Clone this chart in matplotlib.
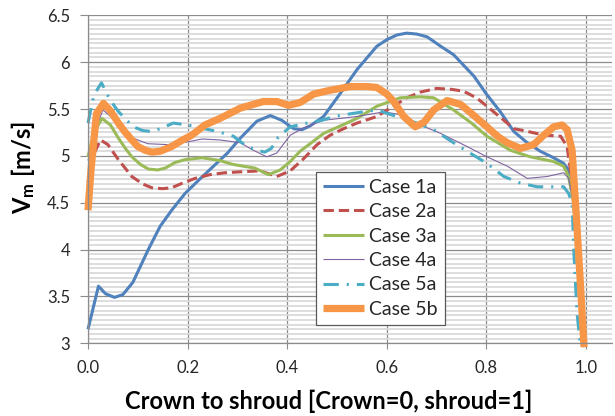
import numpy as np
import matplotlib
matplotlib.use("Agg")
import matplotlib.pyplot as plt
from matplotlib.ticker import FuncFormatter

plt.rcParams['font.family'] = ['Lato', 'DejaVu Sans']
plt.rcParams['mathtext.fontset'] = 'custom'
plt.rcParams['mathtext.rm'] = 'Lato'
plt.rcParams['mathtext.bf'] = 'Lato:bold'
plt.rcParams['mathtext.it'] = 'Lato:italic'

# Meridional velocity profiles, crown (0) to shroud (1)
x_1a = [0, 0.021, 0.035, 0.053, 0.07, 0.09, 0.121, 0.145, 0.168, 0.195, 0.222, 0.25, 0.28, 0.306,
        0.339, 0.366, 0.389, 0.413, 0.43, 0.446, 0.473, 0.507, 0.54, 0.58, 0.60, 0.62, 0.64, 0.66,
        0.681, 0.708, 0.734, 0.775, 0.80, 0.828, 0.855, 0.882, 0.908, 0.935, 0.955, 0.965, 0.975,
        0.985, 0.997]
v_1a = [3.15, 3.61, 3.53, 3.49, 3.52, 3.65, 4.0, 4.25, 4.42, 4.60, 4.74, 4.88, 5.03, 5.19,
        5.37, 5.43, 5.38, 5.29, 5.28, 5.32, 5.42, 5.67, 5.92, 6.17, 6.24, 6.29, 6.31, 6.30,
        6.27, 6.17, 6.08, 5.85, 5.66, 5.47, 5.26, 5.14, 5.05, 4.98, 4.92, 4.85, 4.55,
        3.9, 2.96]

x_2a = [0, 0.01, 0.025, 0.04, 0.061, 0.088, 0.11, 0.128, 0.15, 0.168, 0.19, 0.215, 0.245, 0.275,
        0.306, 0.346, 0.379, 0.406, 0.433, 0.46, 0.486, 0.513, 0.54, 0.58, 0.607, 0.64, 0.667,
        0.70, 0.73, 0.754, 0.78, 0.801, 0.835, 0.855, 0.875, 0.90, 0.922, 0.949, 0.962, 0.975,
        0.985, 0.997]
v_2a = [4.72, 5.0, 5.17, 5.12, 4.96, 4.78, 4.70, 4.66, 4.65, 4.66, 4.71, 4.76, 4.80, 4.82,
        4.83, 4.84, 4.78, 4.84, 4.97, 5.12, 5.22, 5.29, 5.35, 5.42, 5.51, 5.62, 5.68,
        5.72, 5.71, 5.69, 5.62, 5.53, 5.38, 5.29, 5.27, 5.24, 5.22, 5.21, 5.10, 4.6,
        3.8, 2.96]

x_3a = [0, 0.012, 0.028, 0.045, 0.061, 0.075, 0.088, 0.105, 0.121, 0.14, 0.155, 0.175, 0.195,
        0.229, 0.265, 0.29, 0.312, 0.335, 0.362, 0.386, 0.406, 0.426, 0.446, 0.473, 0.507, 0.54,
        0.58, 0.627, 0.667, 0.694, 0.734, 0.77, 0.801, 0.848, 0.888, 0.935, 0.955, 0.965, 0.975,
        0.985, 0.997]
v_3a = [4.99, 5.25, 5.40, 5.33, 5.19, 5.08, 4.99, 4.91, 4.86, 4.85, 4.87, 4.93, 4.96,
        4.98, 4.95, 4.91, 4.89, 4.87, 4.80, 4.85, 4.94, 5.05, 5.13, 5.24, 5.32, 5.40,
        5.53, 5.62, 5.63, 5.62, 5.49, 5.35, 5.21, 5.06, 4.99, 4.94, 4.89, 4.78, 4.5,
        3.8, 2.96]

x_4a = [0, 0.012, 0.03, 0.05, 0.07, 0.09, 0.12, 0.16, 0.2, 0.229, 0.265, 0.306, 0.332, 0.359,
        0.379, 0.406, 0.433, 0.473, 0.54, 0.594, 0.627, 0.667, 0.708, 0.761, 0.801, 0.842, 0.882,
        0.922, 0.955, 0.965, 0.975, 0.985, 0.997]
v_4a = [4.95, 5.25, 5.49, 5.40, 5.28, 5.19, 5.13, 5.12, 5.15, 5.18, 5.17, 5.14, 5.06, 4.99,
        5.03, 5.22, 5.30, 5.38, 5.42, 5.47, 5.44, 5.33, 5.24, 5.10, 4.99, 4.89, 4.76,
        4.78, 4.82, 4.76, 4.5, 3.8, 2.96]

x_5a = [0, 0.012, 0.027, 0.044, 0.06, 0.074, 0.091, 0.11, 0.128, 0.15, 0.171, 0.2, 0.225, 0.26,
        0.292, 0.319, 0.34, 0.355, 0.368, 0.382, 0.406, 0.44, 0.47, 0.493, 0.54, 0.58, 0.62,
        0.66, 0.694, 0.734, 0.761, 0.801, 0.835, 0.868, 0.902, 0.935, 0.955, 0.965, 0.972,
        0.976, 0.982, 0.989]
v_5a = [5.35, 5.65, 5.78, 5.60, 5.48, 5.40, 5.31, 5.27, 5.26, 5.30, 5.35, 5.33, 5.30, 5.26,
        5.21, 5.10, 5.06, 5.04, 5.08, 5.20, 5.31, 5.35, 5.38, 5.42, 5.46, 5.49, 5.42,
        5.35, 5.28, 5.14, 5.05, 4.92, 4.78, 4.71, 4.67, 4.67, 4.67, 4.60, 4.50,
        3.93, 3.32, 2.96]

x_5b = [0, 0.006, 0.017, 0.031, 0.045, 0.061, 0.075, 0.088, 0.1, 0.115, 0.128, 0.145, 0.168,
        0.19, 0.208, 0.235, 0.265, 0.306, 0.332, 0.352, 0.379, 0.403, 0.426, 0.453, 0.486, 0.527,
        0.56, 0.58, 0.60, 0.614, 0.634, 0.657, 0.675, 0.694, 0.721, 0.748, 0.775, 0.801, 0.822,
        0.842, 0.868, 0.895, 0.915, 0.935, 0.952, 0.962, 0.972, 0.98, 0.988, 0.996]
v_5b = [4.42, 4.85, 5.45, 5.56, 5.48, 5.35, 5.25, 5.17, 5.10, 5.06, 5.04, 5.05, 5.10,
        5.17, 5.22, 5.33, 5.40, 5.51, 5.55, 5.58, 5.58, 5.54, 5.57, 5.66, 5.70, 5.74,
        5.74, 5.73, 5.66, 5.58, 5.42, 5.31, 5.36, 5.49, 5.59, 5.55, 5.43, 5.31, 5.21,
        5.14, 5.08, 5.12, 5.22, 5.31, 5.33, 5.28, 5.06, 4.4, 3.7, 2.96]

labels = ['Case 1a', 'Case 2a', 'Case 3a', 'Case 4a', 'Case 5a', 'Case 5b']
x_ticks = [0.0, 0.2, 0.4, 0.6, 0.8, 1.0]

series = [
    (x_1a, v_1a, dict(color='#4F81BD', lw=2.2, ls='-')),
    (x_2a, v_2a, dict(color='#C0504D', lw=2.2, ls=(0, (3.4, 1.6)))),
    (x_3a, v_3a, dict(color='#9BBB59', lw=2.2, ls='-')),
    (x_4a, v_4a, dict(color='#8064A2', lw=0.8, ls='-')),
    (x_5a, v_5a, dict(color='#4BACC6', lw=2.2, ls=(0, (5, 2.6, 0.7, 2.6)))),
    (x_5b, v_5b, dict(color='#F79646', lw=5.2, ls='-')),
]

fig = plt.figure(figsize=(6.15, 4.16), dpi=100)
ax = fig.add_axes([0.1431, 0.1747, 0.8519, 0.7885])

for (xs, ys, style), lab in zip(series, labels):
    ax.plot(xs, ys, label=lab, solid_capstyle='butt', dash_capstyle='butt',
            solid_joinstyle='round', clip_on=False, **style)

ax.set_xlim(0, 1.052)
ax.set_ylim(3, 6.5)
ax.set_xticks(x_ticks)
ax.xaxis.set_major_formatter(FuncFormatter(lambda v, p: f'{v:.1f}'))
ax.set_yticks(np.arange(3, 6.51, 0.5))
ax.set_yticks(np.arange(3, 6.51, 0.05), minor=True)
ax.yaxis.set_major_formatter(FuncFormatter(lambda v, p: f'{v:g}'))

ax.set_axisbelow(True)
ax.grid(which='minor', axis='y', color='#DADADA', lw=1.3)
ax.grid(which='major', axis='both', color='#8C8C8C', lw=0.9)
for side in ['top', 'right']:
    ax.spines[side].set_visible(False)
for side in ['left', 'bottom']:
    ax.spines[side].set_color('#8C8C8C')
    ax.spines[side].set_linewidth(0.9)
ax.tick_params(which='minor', length=0)
ax.tick_params(axis='y', which='major', length=6, color='#8C8C8C', labelsize=12,
               labelcolor='#262626', pad=7)
ax.tick_params(axis='x', which='major', length=4, color='#8C8C8C', labelsize=12,
               labelcolor='#262626', pad=8)

ax.set_xlabel('Crown to shroud [Crown=0, shroud=1]', fontsize=17, fontweight='bold')
ax.xaxis.set_label_coords(0.459, -0.14)
ax.set_ylabel(r'$\mathbf{V_m}$ [m/s]', fontsize=17, fontweight='bold')
ax.yaxis.set_label_coords(-0.098, 0.535)

leg = ax.legend(loc='upper left', bbox_to_anchor=(0.435, 0.522), borderaxespad=0,
                fancybox=False, framealpha=1, edgecolor='#595959', fontsize=14,
                handlelength=2.1, handletextpad=0.3, labelspacing=0.38,
                borderpad=0.35)
leg.get_frame().set_linewidth(0.9)
for t in leg.get_texts():
    t.set_color('#262626')

fig.savefig('out.png', dpi=100)
